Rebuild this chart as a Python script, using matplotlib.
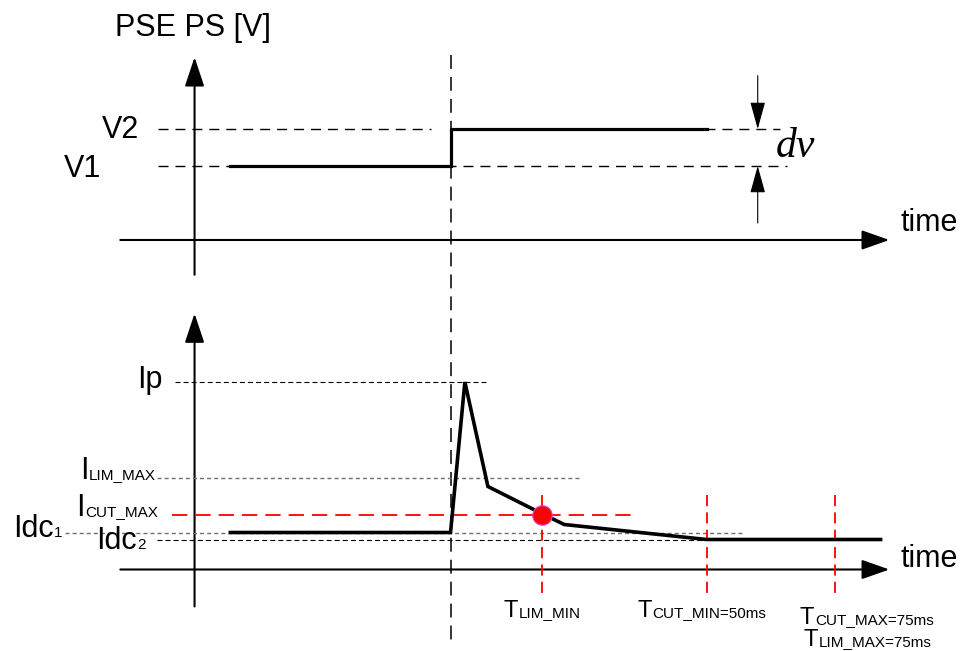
import matplotlib
matplotlib.use("Agg")
import matplotlib.pyplot as plt
from matplotlib.patches import FancyArrowPatch

plt.rcParams['font.family'] = ['Liberation Sans', 'DejaVu Sans']
plt.rcParams['lines.scale_dashes'] = False

# ---------------- data ----------------
# time in ms (step at t = 0)
T_STEP = 0.0
T_LIM_MIN = 17.8
T_CUT_MIN = 50.0
T_CUT_MAX = 75.0
T_AXIS = -50.0

# voltage panel (arbitrary units)
V1 = 1.0
V2 = 1.5
time_v = [-43.0, 0.0, 0.0, 50.0]
volt = [V1, V1, V2, V2]

# current panel (arbitrary units)
IDC1 = 3.7
IDC2 = 3.0
IP = 18.75
ILIM_MAX = 9.2
ICUT_MAX = 5.5
time_i = [-43.0, 0.0, 2.8, 7.3, 17.8, 22.2, 50.0, 84.0]
curr = [IDC1, IDC1, IP, 8.3, 5.6, 4.5, IDC2, IDC2]

W, H = 962, 651
fig = plt.figure(figsize=(W / 100, H / 100), dpi=100)

# both axes cover the full figure; x in ms, y in each panel's units
XLIM = (-88.0, 99.9)
axv = fig.add_axes([0, 0, 1, 1])
axv.set_xlim(*XLIM)
axv.set_ylim(-5.554, 3.243)
axv.axis('off')
axi = fig.add_axes([0, 0, 1, 1])
axi.set_xlim(*XLIM)
axi.set_ylim(-8.15, 56.95)
axi.axis('off')


def arrow(ax, p0, p1, lw, hl, hw):
    a = FancyArrowPatch(p0, p1, arrowstyle=f'-|>,head_length={hl},head_width={hw}',
                        mutation_scale=1, color='black', lw=lw, shrinkA=0, shrinkB=0)
    ax.add_patch(a)


# ---------------- top panel ----------------
arrow(axv, (T_AXIS, -0.47), (T_AXIS, 2.47), 1.5, 18, 6)
arrow(axv, (-64.5, 0), (85.7, 0), 1.5, 17, 6)
axv.plot([-57.2, -3.8], [V2, V2], color='black', lw=1.0, dashes=(7.2, 5))
axv.plot([49.7, 64.4], [V2, V2], color='black', lw=1.0, dashes=(7.2, 5))
axv.plot([-57.2, 65.7], [V1, V1], color='black', lw=1.0, dashes=(7.2, 5))
axv.plot(time_v, volt, color='black', lw=2.3, solid_joinstyle='miter')
# step marker
axv.plot([T_STEP, T_STEP], [2.5, -5.45], color='black', lw=1.1, dashes=(10, 5.8))
# dv arrows
arrow(axv, (60, 2.22), (60, V2), 0.8, 17, 4.7)
arrow(axv, (60, 0.23), (60, V1), 0.8, 17, 4.7)

# ---------------- bottom panel ----------------
arrow(axi, (T_AXIS, -3.7), (T_AXIS, 25.6), 1.5, 18, 6)
arrow(axi, (-64.5, 0), (85.7, 0), 1.5, 17, 6)
axi.plot([-53.8, 6.9], [IP, IP], color='black', lw=0.8, dashes=(3.6, 2.2))
axi.plot([-57.4, 25.3], [ILIM_MAX, ILIM_MAX], color='#707070', lw=1.0, dashes=(2.9, 2.2))
axi.plot([-75.3, 57.2], [IDC1, IDC1], color='#707070', lw=1.0, dashes=(2.9, 2.2))
axi.plot([-57.4, 49.3], [IDC2, IDC2], color='black', lw=0.8, dashes=(3.6, 2.2))
axi.plot([-54.5, 35.6], [ICUT_MAX, ICUT_MAX], color='red', lw=1.3, dashes=(11, 5.8))
for tm in (T_LIM_MIN, T_CUT_MIN, T_CUT_MAX):
    axi.plot([tm, tm], [7.45, -2.85], color='red', lw=1.3, dashes=(8, 4.5))
axi.plot(time_i, curr, color='black', lw=2.6, solid_joinstyle='miter')
axi.plot([T_LIM_MIN], [ICUT_MAX], marker='o', markersize=14, color='red',
         markeredgecolor='#e040e0', markeredgewidth=0.8, zorder=5)

# ---------------- texts ----------------
renderer = fig.canvas.get_renderer()


def txt(x, y, s, size, **kw):
    return fig.text(x / W, 1 - y / H, s, fontsize=size, va='baseline', ha='left', **kw)


def sub(x, y, big, small, bigsize, smallsize):
    t = txt(x, y, big, bigsize)
    bb = t.get_window_extent(renderer)
    txt(bb.x1 + 0.5, y, small, smallsize)


txt(115, 36, 'PSE PS [V]', 22)
txt(102, 138, 'V2', 22)
txt(64, 177, 'V1', 22)
txt(901, 231, 'time', 22)
txt(901, 567, 'time', 22)
txt(776, 157, 'dv', 30, family='Liberation Serif', style='italic')
txt(137, 388, 'Ip', 22)
sub(80, 479.3, 'I', 'LIM_MAX', 22, 11)
sub(76, 516, 'I', 'CUT_MAX', 22, 11)
sub(13, 536.7, 'Idc', '1', 22, 11)
sub(96, 549, 'Idc', '2', 22, 11)
sub(504, 616.7, 'T', 'LIM_MIN', 17, 11)
sub(637.5, 616.7, 'T', 'CUT_MIN=50ms', 17, 11)
sub(800, 624, 'T', 'CUT_MAX=75ms', 17, 11)
sub(804, 646, 'T', 'LIM_MAX=75ms', 17, 11)

fig.savefig('out.png', dpi=100)
